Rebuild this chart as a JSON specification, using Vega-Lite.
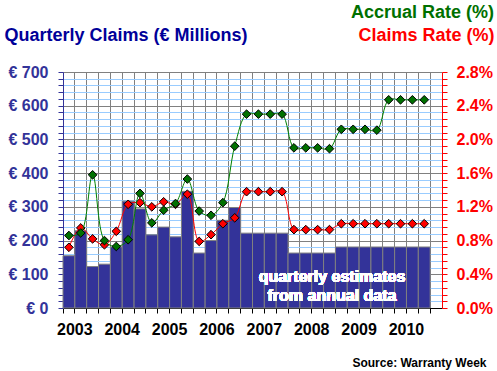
{
  "$schema": "https://vega.github.io/schema/vega-lite/v6.json",
  "width": 379,
  "height": 236,
  "autosize": {"type": "none"},
  "padding": {"left": 63, "top": 72, "right": 55, "bottom": 63},
  "background": "white",
  "title": {
    "text": "Accrual Rate (%)",
    "color": "#007000",
    "font": "Liberation Sans",
    "fontSize": 18,
    "fontWeight": "bold",
    "anchor": "end",
    "frame": "group",
    "dx": 52,
    "dy": 14,
    "baseline": "alphabetic",
    "offset": 4
  },
  "data": {
    "values": [
      {"q": "2003 Q1", "claims": 155, "accrual": 0.86, "claimsRate": 0.72},
      {"q": "2003 Q2", "claims": 229, "accrual": 0.89, "claimsRate": 0.95},
      {"q": "2003 Q3", "claims": 123, "accrual": 1.58, "claimsRate": 0.82},
      {"q": "2003 Q4", "claims": 130, "accrual": 0.80, "claimsRate": 0.75},
      {"q": "2004 Q1", "claims": 181, "accrual": 0.73, "claimsRate": 0.91},
      {"q": "2004 Q2", "claims": 317, "accrual": 0.81, "claimsRate": 1.23},
      {"q": "2004 Q3", "claims": 294, "accrual": 1.36, "claimsRate": 1.25},
      {"q": "2004 Q4", "claims": 217, "accrual": 1.01, "claimsRate": 1.20},
      {"q": "2005 Q1", "claims": 240, "accrual": 1.16, "claimsRate": 1.26},
      {"q": "2005 Q2", "claims": 211, "accrual": 1.24, "claimsRate": 1.23},
      {"q": "2005 Q3", "claims": 346, "accrual": 1.53, "claimsRate": 1.35},
      {"q": "2005 Q4", "claims": 163, "accrual": 1.15, "claimsRate": 0.79},
      {"q": "2006 Q1", "claims": 200, "accrual": 1.10, "claimsRate": 0.87},
      {"q": "2006 Q2", "claims": 260, "accrual": 1.25, "claimsRate": 1.00},
      {"q": "2006 Q3", "claims": 298, "accrual": 1.92, "claimsRate": 1.07},
      {"q": "2006 Q4", "claims": 222, "accrual": 2.30, "claimsRate": 1.38},
      {"q": "2007 Q1", "claims": 222, "accrual": 2.30, "claimsRate": 1.38},
      {"q": "2007 Q2", "claims": 222, "accrual": 2.30, "claimsRate": 1.38},
      {"q": "2007 Q3", "claims": 222, "accrual": 2.30, "claimsRate": 1.38},
      {"q": "2007 Q4", "claims": 163, "accrual": 1.90, "claimsRate": 0.93},
      {"q": "2008 Q1", "claims": 163, "accrual": 1.90, "claimsRate": 0.93},
      {"q": "2008 Q2", "claims": 163, "accrual": 1.90, "claimsRate": 0.93},
      {"q": "2008 Q3", "claims": 163, "accrual": 1.89, "claimsRate": 0.93},
      {"q": "2008 Q4", "claims": 181, "accrual": 2.12, "claimsRate": 1.00},
      {"q": "2009 Q1", "claims": 181, "accrual": 2.12, "claimsRate": 1.00},
      {"q": "2009 Q2", "claims": 181, "accrual": 2.12, "claimsRate": 1.00},
      {"q": "2009 Q3", "claims": 181, "accrual": 2.11, "claimsRate": 1.00},
      {"q": "2009 Q4", "claims": 181, "accrual": 2.47, "claimsRate": 1.00},
      {"q": "2010 Q1", "claims": 181, "accrual": 2.47, "claimsRate": 1.00},
      {"q": "2010 Q2", "claims": 181, "accrual": 2.47, "claimsRate": 1.00},
      {"q": "2010 Q3", "claims": 181, "accrual": 2.47, "claimsRate": 1.00}
    ]
  },
  "encoding": {
    "x": {
      "field": "q",
      "type": "ordinal",
      "scale": {
        "type": "band",
        "paddingInner": 0,
        "paddingOuter": 0,
        "domain": ["2003 Q1","2003 Q2","2003 Q3","2003 Q4","2004 Q1","2004 Q2","2004 Q3","2004 Q4","2005 Q1","2005 Q2","2005 Q3","2005 Q4","2006 Q1","2006 Q2","2006 Q3","2006 Q4","2007 Q1","2007 Q2","2007 Q3","2007 Q4","2008 Q1","2008 Q2","2008 Q3","2008 Q4","2009 Q1","2009 Q2","2009 Q3","2009 Q4","2010 Q1","2010 Q2","2010 Q3","2010 Q4"]
      },
      "axis": {
        "bandPosition": 0,
        "labelOffset": 5.9,
        "labelExpr": "indexof(datum.label, 'Q1') > 0 ? substring(datum.label, 0, 4) : ''",
        "labelAngle": 0,
        "labelOverlap": false,
        "labelFont": "Liberation Sans",
        "labelFontSize": 16,
        "labelFontWeight": "bold",
        "labelColor": "black",
        "labelPadding": 8,
        "tickSize": 5,
        "tickColor": "black",
        "domainColor": "black",
        "grid": true,
        "gridColor": "#808080",
        "gridWidth": 1,
        "title": "Source: Warranty Week",
        "titleFont": "Liberation Sans",
        "titleFontSize": 12,
        "titleFontWeight": "bold",
        "titleColor": "black",
        "titleAlign": "right",
        "titleBaseline": "alphabetic",
        "titleX": 423,
        "titleY": 58
      }
    }
  },
  "layer": [
    {
      "layer": [
        {
          "mark": {"type": "bar", "fill": "#333399", "stroke": "#808080", "strokeWidth": 1},
          "encoding": {
            "y": {
              "field": "claims",
              "type": "quantitative",
              "scale": {"domain": [0, 700], "nice": false},
              "axis": {
                "orient": "left",
                "values": [0,20,40,60,80,100,120,140,160,180,200,220,240,260,280,300,320,340,360,380,400,420,440,460,480,500,520,540,560,580,600,620,640,660,680,700],
                "tickCount": 100,
                "labelExpr": "datum.value % 100 === 0 ? '€ ' + datum.value : ''",
                "labelOverlap": false,
                "labelFlush": false,
                "labelFont": "Liberation Sans",
                "labelFontSize": 16,
                "labelFontWeight": "bold",
                "labelColor": "#333399",
                "labelPadding": 10,
                "tickSize": 5,
                "tickColor": "#333399",
                "domainColor": "#333399",
                "grid": true,
                "gridColor": {"condition": {"test": "datum.value % 100 === 0", "value": "#808080"}, "value": "#99CCFF"},
                "gridWidth": 1,
                "title": "Quarterly Claims (€ Millions)",
                "titleFont": "Liberation Sans",
                "titleFontSize": 18,
                "titleFontWeight": "bold",
                "titleColor": "#000099",
                "titleAngle": 0,
                "titleAlign": "left",
                "titleBaseline": "alphabetic",
                "titleX": -59,
                "titleY": -32
              }
            }
          }
        },
        {
          "mark": {
            "type": "text",
            "text": ["quarterly estimates", "from annual data"],
            "font": "Liberation Sans",
            "fontSize": 16,
            "fontWeight": "bold",
            "color": "white",
            "align": "center",
            "baseline": "middle",
            "lineHeight": 19,
            "dx": 2.5
          },
          "encoding": {
            "x": {"datum": "2008 Q3"},
            "y": {"datum": 91}
          }
        }
      ]
    },
    {
      "layer": [
        {
          "mark": {"type": "line", "color": "#FF0000", "strokeWidth": 1, "interpolate": "catmull-rom"},
          "encoding": {
            "y": {
              "field": "claimsRate",
              "type": "quantitative",
              "scale": {"domain": [0, 2.8], "nice": false},
              "axis": {
                "orient": "right",
                "values": [0,0.08,0.16,0.24,0.32,0.4,0.48,0.56,0.64,0.72,0.8,0.88,0.96,1.04,1.12,1.2,1.28,1.36,1.44,1.52,1.6,1.68,1.76,1.84,1.92,2.0,2.08,2.16,2.24,2.32,2.4,2.48,2.56,2.64,2.72,2.8],
                "tickCount": 100,
                "labelExpr": "abs(datum.value / 0.4 - round(datum.value / 0.4)) < 0.01 ? format(datum.value, '.1f') + '%' : ''",
                "labelOverlap": false,
                "labelFlush": false,
                "labelFont": "Liberation Sans",
                "labelFontSize": 16,
                "labelFontWeight": "bold",
                "labelColor": "#FF0000",
                "labelPadding": 9,
                "tickSize": 5,
                "tickColor": "#FF0000",
                "domainColor": "#FF0000",
                "grid": false,
                "title": "Claims Rate (%)",
                "titleFont": "Liberation Sans",
                "titleFontSize": 18,
                "titleFontWeight": "bold",
                "titleColor": "#FF0000",
                "titleAngle": 0,
                "titleAlign": "right",
                "titleBaseline": "alphabetic",
                "titleX": 52,
                "titleY": -32
              }
            }
          }
        },
        {
          "mark": {"type": "point", "shape": "diamond", "filled": true, "fill": "#FF0000", "stroke": "black", "strokeWidth": 1, "size": 75, "opacity": 1},
          "encoding": {"y": {"field": "claimsRate", "type": "quantitative"}}
        },
        {
          "mark": {"type": "line", "color": "#008000", "strokeWidth": 1, "interpolate": "catmull-rom"},
          "encoding": {"y": {"field": "accrual", "type": "quantitative"}}
        },
        {
          "mark": {"type": "point", "shape": "diamond", "filled": true, "fill": "#007000", "stroke": "black", "strokeWidth": 1, "size": 75, "opacity": 1},
          "encoding": {"y": {"field": "accrual", "type": "quantitative"}}
        }
      ]
    }
  ],
  "resolve": {"scale": {"y": "independent"}},
  "config": {
    "view": {"stroke": null},
    "font": "Liberation Sans"
  }
}
